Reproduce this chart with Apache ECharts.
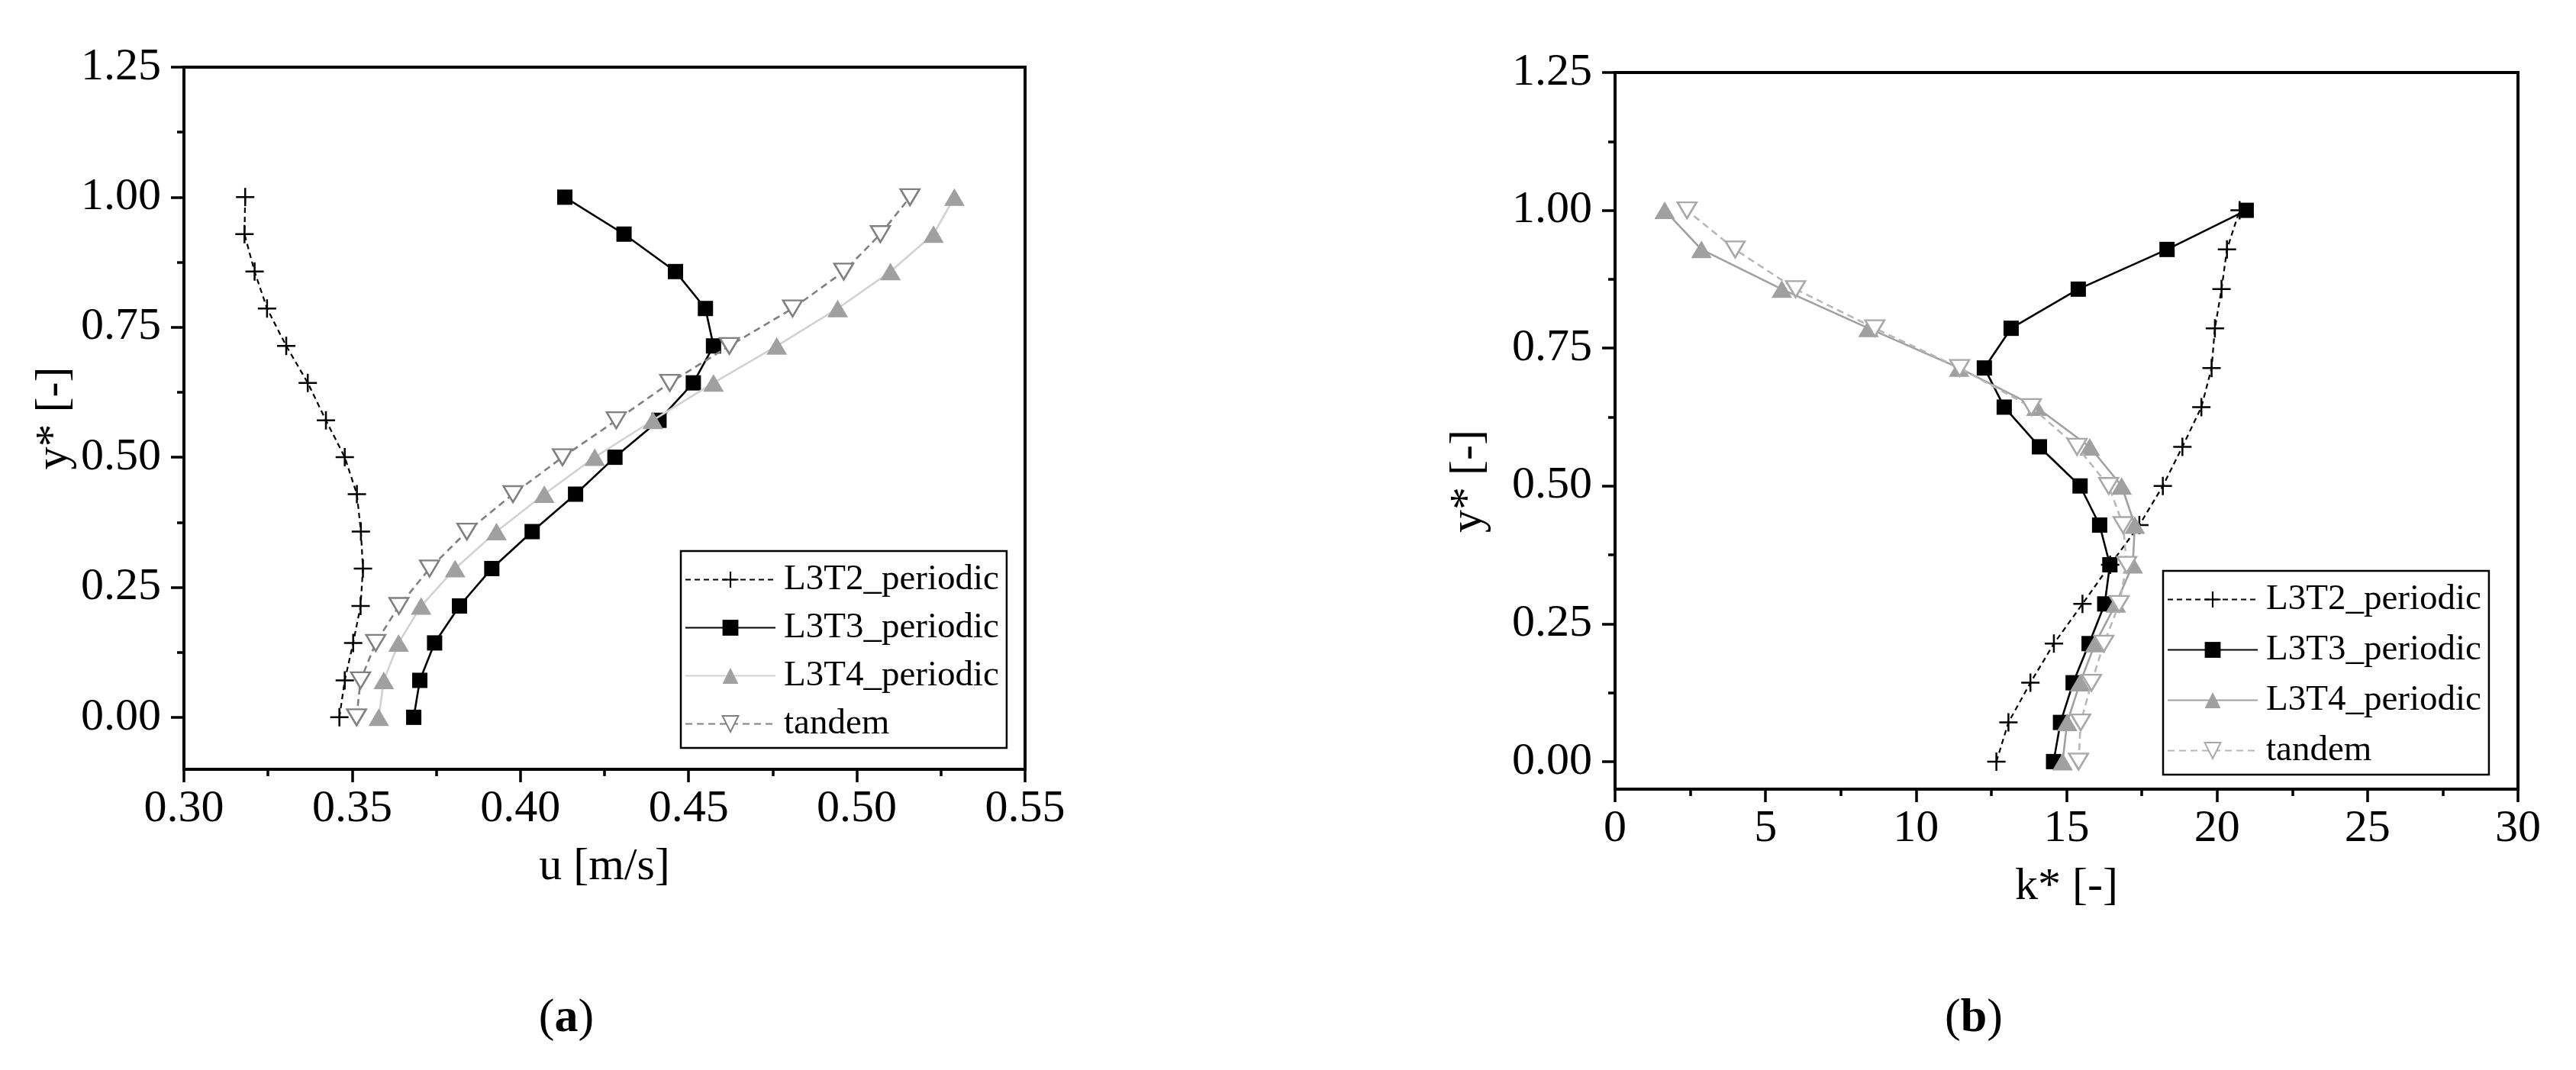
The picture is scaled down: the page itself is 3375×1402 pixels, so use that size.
<!DOCTYPE html>
<html>
<head>
<meta charset="utf-8">
<script src="https://cdn.jsdelivr.net/npm/echarts@6/dist/echarts.min.js"></script>
<style>
  html, body { margin: 0; padding: 0; background: #fff; }
  #chart { width: 3375px; height: 1402px; }
</style>
</head>
<body>
<div id="chart"></div>
<script>
// normalised height of the 15 measuring points
const yStar = [0.000, 0.071, 0.143, 0.214, 0.286, 0.357, 0.429, 0.500, 0.571, 0.643, 0.714, 0.786, 0.857, 0.929, 1.000];

const seriesNames = ['L3T2_periodic', 'L3T3_periodic', 'L3T4_periodic', 'tandem'];

// (a) velocity u [m/s]
const uL3T2 = [0.3462, 0.3478, 0.3503, 0.3525, 0.3532, 0.3526, 0.3514, 0.3478, 0.3422, 0.3368, 0.3304, 0.3247, 0.3210, 0.3180, 0.3182];
const uL3T3 = [0.3683, 0.3701, 0.3745, 0.3819, 0.3915, 0.4035, 0.4164, 0.4281, 0.4412, 0.4514, 0.4574, 0.4550, 0.4461, 0.4308, 0.4132];
const uL3T4 = [0.3579, 0.3594, 0.3638, 0.3705, 0.3806, 0.3929, 0.4071, 0.4221, 0.4394, 0.4574, 0.4762, 0.4943, 0.5100, 0.5228, 0.5290];
const uTandem = [0.3513, 0.3525, 0.3570, 0.3639, 0.3730, 0.3841, 0.3978, 0.4125, 0.4285, 0.4444, 0.4621, 0.4809, 0.4961, 0.5070, 0.5158];

// (b) turbulent kinetic energy k* [-]
const kL3T2 = [12.67, 13.07, 13.80, 14.58, 15.53, 16.45, 17.42, 18.20, 18.85, 19.48, 19.82, 19.93, 20.15, 20.33, 20.75];
const kL3T3 = [14.57, 14.80, 15.22, 15.75, 16.27, 16.44, 16.10, 15.45, 14.10, 12.93, 12.27, 13.16, 15.39, 18.34, 20.97];
const kL3T4 = [14.87, 15.02, 15.45, 15.95, 16.64, 17.20, 17.27, 16.83, 15.77, 14.00, 11.43, 8.42, 5.54, 2.87, 1.65];
const kTandem = [15.40, 15.47, 15.83, 16.24, 16.75, 17.00, 16.88, 16.40, 15.35, 13.83, 11.45, 8.63, 6.00, 3.99, 2.39];

const yMajor = [0, 0.25, 0.5, 0.75, 1.0, 1.25];
const yMinor = [0.125, 0.375, 0.625, 0.875, 1.125];

const FONT = '"Liberation Serif", "DejaVu Serif", serif';
const PLUS = 'path://M10.75,0H13.25V10.75H24V13.25H13.25V24H10.75V13.25H0V10.75H10.75Z';

const pairs = xs => xs.map((x, i) => [x, yStar[i]]);

const chart = echarts.init(document.getElementById('chart'));

function styles(panel) {
  const light = panel === 'b';
  return [
    { symbol: PLUS, symbolSize: 24,
      lineStyle: { color: '#000', width: 2.2, type: [7, 5] }, itemStyle: { color: '#000' } },
    { symbol: 'rect', symbolSize: 20,
      lineStyle: { color: '#000', width: 2.6, type: 'solid' }, itemStyle: { color: '#000' } },
    { symbol: 'triangle', symbolSize: [27, 23],
      lineStyle: { color: light ? '#a0a0a0' : '#d2d2d2', width: 2.6, type: 'solid' },
      itemStyle: { color: '#a0a0a0' } },
    { symbol: 'triangle', symbolRotate: 180, symbolSize: [25, 21],
      lineStyle: { color: light ? '#b8b8b8' : '#808080', width: 2.6, type: [9, 6] },
      itemStyle: { color: '#fff', borderColor: light ? '#a8a8a8' : '#808080', borderWidth: 2.5 } }
  ];
}

function buildSeries(panel, lists, axis) {
  const st = styles(panel);
  return lists.map((xs, i) => Object.assign({
    name: panel === 'a' ? seriesNames[i] : seriesNames[i] + ' (b)',
    type: 'line',
    xAxisIndex: axis,
    yAxisIndex: axis * 2,
    data: pairs(xs),
    showAllSymbol: true,
    z: 2 + i
  }, st[i]));
}

const tickStyle = { color: '#000', width: 3.5 };

function xAxisOf(grid, min, max, interval, name, fmt) {
  return {
    gridIndex: grid, type: 'value', min, max, interval,
    name, nameLocation: 'middle', nameGap: 98,
    nameTextStyle: { fontFamily: FONT, fontSize: 60, color: '#000' },
    axisLine: { onZero: false, lineStyle: { color: '#000', width: 4 } },
    axisTick: { length: 17, lineStyle: tickStyle },
    minorTick: { show: true, splitNumber: 2, length: 9, lineStyle: tickStyle },
    axisLabel: { fontFamily: FONT, fontSize: 60, color: '#000', margin: 22, formatter: fmt },
    splitLine: { show: false }
  };
}

function yAxesOf(grid, min, nameGap, namePad) {
  return [{
    gridIndex: grid, type: 'value', position: 'left', min, max: 1.25,
    name: 'y* [-]', nameLocation: 'middle', nameGap,
    nameTextStyle: { fontFamily: FONT, fontSize: 60, color: '#000', padding: namePad },
    axisLine: { onZero: false, lineStyle: { color: '#000', width: 4 } },
    axisTick: { length: 17, lineStyle: tickStyle, customValues: yMajor },
    axisLabel: { fontFamily: FONT, fontSize: 60, color: '#000', margin: 30,
      customValues: yMajor, formatter: v => v.toFixed(2) },
    splitLine: { show: false }
  }, {
    // minor ticks only
    gridIndex: grid, type: 'value', position: 'left', offset: 0, min, max: 1.25,
    axisLine: { show: false },
    axisTick: { length: 9, lineStyle: tickStyle, customValues: yMinor },
    axisLabel: { show: false },
    splitLine: { show: false }
  }];
}

function legendOf(left, top, names, gap, fmt) {
  return {
    orient: 'vertical', left, top,
    data: names,
    itemWidth: 118, itemHeight: 26, itemGap: gap,
    padding: [14, 10, 8, 5],
    borderColor: '#000', borderWidth: 2.5,
    selectedMode: false,
    formatter: fmt,
    textStyle: { fontFamily: FONT, fontSize: 47, color: '#000', padding: [0, 0, 0, 6] }
  };
}

const option = {
  animation: false,
  backgroundColor: '#fff',
  grid: [
    { left: 241, top: 88, width: 1102, height: 920, show: true, borderColor: '#000', borderWidth: 4 },
    { left: 2116, top: 95, width: 1183, height: 939, show: true, borderColor: '#000', borderWidth: 4 }
  ],
  xAxis: [
    xAxisOf(0, 0.30, 0.55, 0.05, 'u [m/s]', v => v.toFixed(2)),
    xAxisOf(1, 0, 30, 5, 'k* [-]', v => String(v))
  ],
  yAxis: [
    ...yAxesOf(0, -0.1, 140, [0, 0, 0, 0]),
    ...yAxesOf(1, -0.05, 162, [0, 132, 0, 0])
  ],
  legend: [
    legendOf(892, 722, seriesNames, 16, n => n),
    legendOf(2834, 748, seriesNames.map(n => n + ' (b)'), 19, n => n.replace(' (b)', ''))
  ],
  series: [
    ...buildSeries('a', [uL3T2, uL3T3, uL3T4, uTandem], 0),
    ...buildSeries('b', [kL3T2, kL3T3, kL3T4, kTandem], 1)
  ],
  graphic: [
    { type: 'text', x: 742, y: 1335, style: { text: '{p|(}{b|a}{p|)}', align: 'center', verticalAlign: 'middle',
      rich: { p: { fontFamily: FONT, fontSize: 62, fill: '#000' }, b: { fontFamily: FONT, fontSize: 62, fontWeight: 'bold', fill: '#000' } } } },
    { type: 'text', x: 2586, y: 1335, style: { text: '{p|(}{b|b}{p|)}', align: 'center', verticalAlign: 'middle',
      rich: { p: { fontFamily: FONT, fontSize: 62, fill: '#000' }, b: { fontFamily: FONT, fontSize: 62, fontWeight: 'bold', fill: '#000' } } } }
  ]
};

chart.setOption(option);
</script>
</body>
</html>
